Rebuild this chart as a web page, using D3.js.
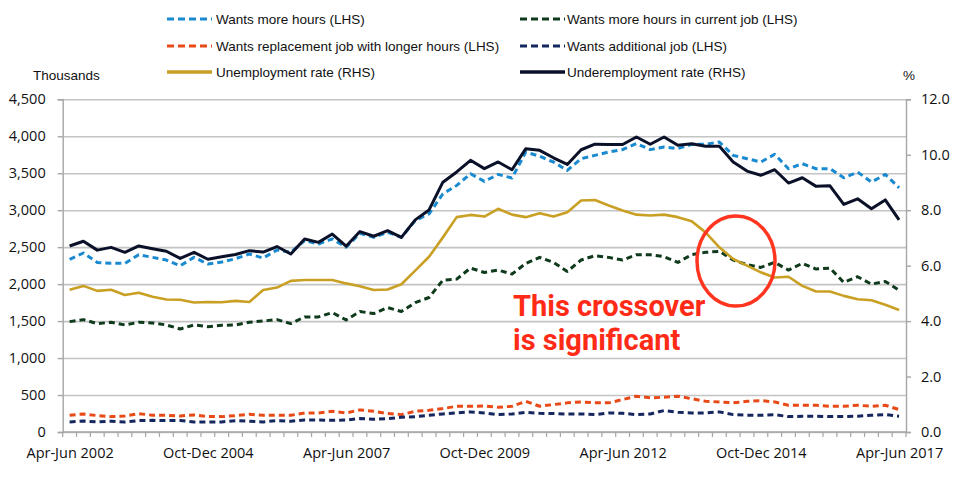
<!DOCTYPE html>
<html>
<head>
<meta charset="utf-8">
<script src="https://cdn.jsdelivr.net/npm/d3@7"></script>
<style>
  html, body { margin: 0; padding: 0; background: #ffffff; }
  svg { display: block; }
</style>
</head>
<body>
<svg id="chart" width="960" height="483"></svg>
<script>
// ---------------- DATA ----------------
const categories = [
  "Apr-Jun 2002","Jul-Sep 2002","Oct-Dec 2002","Jan-Mar 2003","Apr-Jun 2003","Jul-Sep 2003","Oct-Dec 2003",
  "Jan-Mar 2004","Apr-Jun 2004","Jul-Sep 2004","Oct-Dec 2004","Jan-Mar 2005","Apr-Jun 2005","Jul-Sep 2005","Oct-Dec 2005",
  "Jan-Mar 2006","Apr-Jun 2006","Jul-Sep 2006","Oct-Dec 2006","Jan-Mar 2007","Apr-Jun 2007","Jul-Sep 2007","Oct-Dec 2007",
  "Jan-Mar 2008","Apr-Jun 2008","Jul-Sep 2008","Oct-Dec 2008","Jan-Mar 2009","Apr-Jun 2009","Jul-Sep 2009","Oct-Dec 2009",
  "Jan-Mar 2010","Apr-Jun 2010","Jul-Sep 2010","Oct-Dec 2010","Jan-Mar 2011","Apr-Jun 2011","Jul-Sep 2011","Oct-Dec 2011",
  "Jan-Mar 2012","Apr-Jun 2012","Jul-Sep 2012","Oct-Dec 2012","Jan-Mar 2013","Apr-Jun 2013","Jul-Sep 2013","Oct-Dec 2013",
  "Jan-Mar 2014","Apr-Jun 2014","Jul-Sep 2014","Oct-Dec 2014","Jan-Mar 2015","Apr-Jun 2015","Jul-Sep 2015","Oct-Dec 2015",
  "Jan-Mar 2016","Apr-Jun 2016","Jul-Sep 2016","Oct-Dec 2016","Jan-Mar 2017","Apr-Jun 2017"
];

const xTickLabels = ["Apr-Jun 2002","Oct-Dec 2004","Apr-Jun 2007","Oct-Dec 2009","Apr-Jun 2012","Oct-Dec 2014","Apr-Jun 2017"];
const leftTicks = [0, 500, 1000, 1500, 2000, 2500, 3000, 3500, 4000, 4500];
const rightTicks = [0, 2, 4, 6, 8, 10, 12];

// Thousands (LHS)
const wantsMoreHours = [
  2335, 2421, 2294, 2281, 2281, 2398, 2362, 2326, 2249, 2362, 2272, 2299, 2344, 2407, 2353, 2462,
  2430, 2588, 2543, 2611, 2498, 2688, 2634, 2701, 2634, 2860, 2950, 3222, 3335, 3493, 3390,
  3484, 3435, 3787, 3729, 3652, 3539, 3697, 3742, 3787, 3819, 3901, 3819, 3855, 3833, 3890,
  3892, 3923, 3742, 3697, 3652, 3756, 3561, 3629, 3561, 3561, 3439, 3516, 3380, 3484, 3303
];
const wantsMoreHoursCurrentJob = [
  1493, 1520, 1466, 1484, 1448, 1484, 1475, 1448, 1394, 1448, 1425, 1443, 1448, 1484, 1502, 1520,
  1466, 1557, 1557, 1615, 1516, 1629, 1602, 1683, 1629, 1751, 1819, 2054, 2068, 2217, 2158,
  2190, 2136, 2281, 2362, 2294, 2172, 2326, 2385, 2362, 2326, 2398, 2398, 2371, 2294, 2400,
  2430, 2444, 2326, 2263, 2226, 2294, 2190, 2281, 2204, 2217, 2023, 2100, 2000, 2036, 1919
];
const wantsReplacementJob = [
  226, 244, 222, 208, 217, 249, 226, 226, 217, 231, 208, 208, 222, 240, 226, 226,
  226, 258, 258, 281, 258, 299, 281, 249, 235, 281, 294, 317, 348, 348, 352,
  335, 348, 416, 348, 371, 394, 407, 394, 394, 439, 484, 462, 471, 484, 450,
  416, 407, 394, 416, 425, 407, 362, 362, 362, 348, 348, 362, 348, 362, 303
];
const wantsAdditionalJob = [
  136, 149, 136, 145, 136, 154, 158, 154, 154, 136, 136, 136, 154, 145, 136, 154,
  145, 163, 163, 158, 163, 181, 172, 181, 199, 208, 226, 244, 258, 272, 258,
  235, 244, 267, 253, 249, 244, 244, 235, 258, 253, 235, 244, 290, 267, 258,
  258, 272, 235, 226, 226, 235, 208, 213, 213, 208, 208, 213, 226, 235, 213
];
// Per cent (RHS)
const unemploymentRate = [
  5.13, 5.27, 5.09, 5.13, 4.94, 5.02, 4.88, 4.78, 4.77, 4.67, 4.69, 4.68, 4.73, 4.69, 5.12, 5.21,
  5.45, 5.48, 5.48, 5.48, 5.36, 5.26, 5.12, 5.14, 5.33, 5.82, 6.32, 7.02, 7.75, 7.83, 7.77,
  8.05, 7.84, 7.75, 7.89, 7.77, 7.93, 8.35, 8.37, 8.17, 7.99, 7.84, 7.81, 7.84, 7.75, 7.60,
  7.20, 6.66, 6.24, 6.00, 5.76, 5.57, 5.60, 5.27, 5.07, 5.07, 4.91, 4.79, 4.75, 4.59, 4.40
];
const underemploymentRate = [
  6.71, 6.88, 6.56, 6.66, 6.48, 6.71, 6.61, 6.52, 6.26, 6.48, 6.23, 6.32, 6.40, 6.54, 6.49, 6.69,
  6.42, 6.96, 6.84, 7.14, 6.70, 7.23, 7.06, 7.26, 7.02, 7.65, 8.01, 9.01, 9.38, 9.80, 9.50,
  9.74, 9.46, 10.22, 10.16, 9.89, 9.65, 10.18, 10.38, 10.37, 10.37, 10.64, 10.38, 10.64, 10.34, 10.40,
  10.31, 10.31, 9.74, 9.41, 9.26, 9.46, 8.98, 9.17, 8.86, 8.88, 8.21, 8.41, 8.05, 8.37, 7.65
];

const seriesNames = [
  "Wants more hours (LHS)",
  "Wants more hours in current job (LHS)",
  "Wants replacement job with longer hours (LHS)",
  "Wants additional job (LHS)",
  "Unemployment rate (RHS)",
  "Underemployment rate (RHS)"
];

const annotationLines = ["This crossover", "is significant"];

// ---------------- LAYOUT ----------------
const svg = d3.select("#chart");
const plot = { left: 62.7, right: 906, top: 99.3, bottom: 432 };

const x = d3.scalePoint().domain(categories).range([plot.left, plot.right]).padding(0.5);
const xBand = d3.scaleBand().domain(categories).range([plot.left, plot.right]);
const yL = d3.scaleLinear().domain([0, 4500]).range([plot.bottom, plot.top]);
const yR = d3.scaleLinear().domain([0, 12]).range([plot.bottom, plot.top]);

const axisColor = "#a6a6a6";
const gridColor = "#c4c4c4";
const labelFont = "'Open Sans', 'Liberation Sans', sans-serif";
const legendFont = "'Liberation Sans', Arial, sans-serif";

// Gridlines
svg.append("g")
  .attr("transform", `translate(${plot.left},0)`)
  .call(d3.axisLeft(yL).tickValues(leftTicks).tickSize(-(plot.right - plot.left)).tickFormat(""))
  .call(g => g.select(".domain").remove())
  .call(g => g.selectAll(".tick line").attr("stroke", gridColor).attr("stroke-width", 1.6));

// Left axis
svg.append("g")
  .attr("transform", `translate(${plot.left},0)`)
  .call(d3.axisLeft(yL).tickValues(leftTicks).tickSize(5).tickPadding(12).tickFormat(d3.format(",")))
  .call(g => g.select(".domain").attr("stroke", axisColor).attr("stroke-width", 1.4))
  .call(g => g.selectAll(".tick line").attr("stroke", axisColor).attr("stroke-width", 1.4))
  .call(g => g.selectAll(".tick text").attr("fill", "#111").attr("font-family", labelFont).attr("font-size", "14.5px"));

// Right axis
svg.append("g")
  .attr("transform", `translate(${plot.right},0)`)
  .call(d3.axisRight(yR).tickValues(rightTicks).tickSize(5).tickPadding(10).tickFormat(d3.format(".1f")))
  .call(g => g.select(".domain").attr("stroke", axisColor).attr("stroke-width", 1.4))
  .call(g => g.selectAll(".tick line").attr("stroke", axisColor).attr("stroke-width", 1.4))
  .call(g => g.selectAll(".tick text").attr("fill", "#111").attr("font-family", labelFont).attr("font-size", "14.5px"));

// Bottom axis: tick marks at category boundaries
const boundaries = categories.map(c => xBand(c)).concat([xBand.range()[1]]);
svg.append("line")
  .attr("x1", plot.left).attr("x2", plot.right)
  .attr("y1", plot.bottom).attr("y2", plot.bottom)
  .attr("stroke", axisColor).attr("stroke-width", 1.4);
svg.append("g").selectAll("line").data(boundaries).join("line")
  .attr("x1", d => d).attr("x2", d => d)
  .attr("y1", plot.bottom).attr("y2", plot.bottom + 5)
  .attr("stroke", axisColor).attr("stroke-width", 1.2);

svg.append("g")
  .attr("transform", `translate(0,${plot.bottom})`)
  .call(d3.axisBottom(x).tickValues(xTickLabels).tickSize(0).tickPadding(16))
  .call(g => g.select(".domain").remove())
  .call(g => g.selectAll(".tick text").attr("fill", "#111").attr("font-family", labelFont).attr("font-size", "14.5px"));

// Axis titles
svg.append("text").attr("x", 33).attr("y", 80).text("Thousands")
  .attr("font-family", legendFont).attr("font-size", "13.5px").attr("fill", "#111");
svg.append("text").attr("x", 903).attr("y", 80).text("%")
  .attr("font-family", legendFont).attr("font-size", "13.5px").attr("fill", "#111");

// ---------------- SERIES ----------------
const series = [
  { name: seriesNames[0], values: wantsMoreHours, axis: "L", color: "#1a8ad0", dash: "6,4", width: 3 },
  { name: seriesNames[1], values: wantsMoreHoursCurrentJob, axis: "L", color: "#0f3a1c", dash: "6,4", width: 3 },
  { name: seriesNames[2], values: wantsReplacementJob, axis: "L", color: "#e84a17", dash: "6,4", width: 3 },
  { name: seriesNames[3], values: wantsAdditionalJob, axis: "L", color: "#15275e", dash: "6,4", width: 3 },
  { name: seriesNames[4], values: unemploymentRate, axis: "R", color: "#c9a024", dash: null, width: 2.6 },
  { name: seriesNames[5], values: underemploymentRate, axis: "R", color: "#0b1128", dash: null, width: 3 }
];

series.forEach(s => {
  const yS = s.axis === "L" ? yL : yR;
  const line = d3.line()
    .x((d, i) => x(categories[i]))
    .y(d => yS(d));
  svg.append("path")
    .datum(s.values)
    .attr("d", line)
    .attr("fill", "none")
    .attr("stroke", s.color)
    .attr("stroke-width", s.width)
    .attr("stroke-linejoin", "round")
    .attr("stroke-dasharray", s.dash);
});

// ---------------- LEGEND ----------------
const legendPos = [
  { sx: 167, tx: 216, y: 19 },
  { sx: 520, tx: 567, y: 19 },
  { sx: 167, tx: 216, y: 46 },
  { sx: 520, tx: 567, y: 46 },
  { sx: 167, tx: 216, y: 72 },
  { sx: 520, tx: 567, y: 72 }
];
series.forEach((s, i) => {
  const p = legendPos[i];
  svg.append("line")
    .attr("x1", p.sx).attr("x2", p.sx + 45)
    .attr("y1", p.y).attr("y2", p.y)
    .attr("stroke", s.color)
    .attr("stroke-width", s.dash ? 3 : 3.5)
    .attr("stroke-dasharray", s.dash ? "7,4" : null);
  svg.append("text")
    .attr("x", p.tx).attr("y", p.y + 5)
    .text(s.name)
    .attr("font-family", legendFont).attr("font-size", "13.5px").attr("fill", "#111");
});

// ---------------- ANNOTATION ----------------
const red = "#ff2b17";
svg.append("ellipse")
  .attr("cx", 736).attr("cy", 261).attr("rx", 39).attr("ry", 45)
  .attr("fill", "none").attr("stroke", "#ff3520").attr("stroke-width", 3.5);

svg.append("g").selectAll("text").data(annotationLines).join("text")
  .attr("x", 513)
  .attr("y", (d, i) => 316 + i * 34)
  .text(d => d)
  .attr("font-family", "Roboto, sans-serif")
  .attr("font-weight", "bold")
  .attr("font-size", "29px")
  .attr("fill", red);
</script>
</body>
</html>
